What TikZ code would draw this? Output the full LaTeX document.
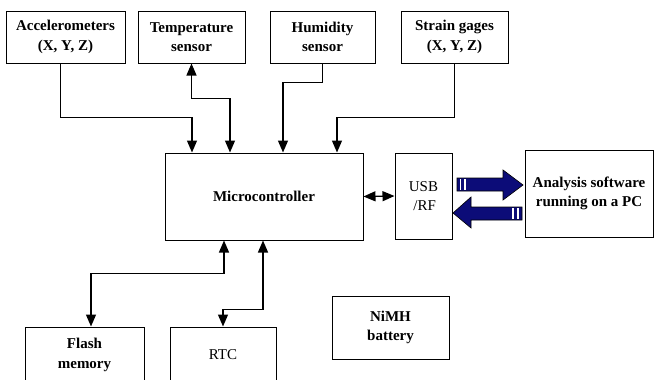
\documentclass[tikz,border=0pt]{standalone}
\usepackage{fontspec}
\setmainfont{Liberation Serif}
\usetikzlibrary{arrows.meta,calc}

\definecolor{pcblue}{RGB}{12,12,120}

\begin{document}
\begin{tikzpicture}[
    x=1pt, y=-1pt,
    block/.style={rectangle, draw, line width=1pt, align=center, inner sep=1pt,
        font=\fontsize{15}{19.5}\selectfont\bfseries},
    plain/.style={block, font=\fontsize{15}{19.5}\selectfont},
    conn/.style={line width=1.3pt, -{Triangle[length=12pt,width=10pt]}},
    biconn/.style={line width=1.3pt, {Triangle[length=12pt,width=10pt]}-{Triangle[length=12pt,width=10pt]}},
    fat/.style={fill=pcblue, draw=black, line width=0.6pt}
]
\useasboundingbox (0,0) rectangle (654,380);

% sensors on top
\node[block, minimum width=119pt, minimum height=52pt] (acc) at (65.5,37) {Accelerometers\\(X, Y, Z)};
\node[block, minimum width=107pt, minimum height=52pt] (temp) at (191.5,37) {Temperature\\sensor};
\node[block, minimum width=105pt, minimum height=52pt] (hum) at (322.5,37) {Humidity\\sensor};
\node[block, minimum width=107pt, minimum height=52pt] (strain) at (454.5,37) {Strain gages\\(X, Y, Z)};

% core
\node[block, minimum width=198pt, minimum height=87pt] (mcu) at (264,196.5) {Microcontroller};
\node[plain, minimum width=57pt, minimum height=86pt] (usb) at (423.5,196) {USB\\\,/RF};
\node[block, minimum width=128pt, minimum height=87pt] (pc) at (589,193.5) {Analysis software\\running on a PC};

% bottom row
\node[block, minimum width=119pt, minimum height=56pt] (flash) at (84.5,355) {Flash\\memory};
\node[plain, minimum width=106pt, minimum height=56pt] (rtc) at (223,355) {RTC};
\node[block, minimum width=117pt, minimum height=63pt] (bat) at (390.5,327.5) {NiMH\\battery};

% sensor links
\draw[conn] ([xshift=-5pt]acc.south) -- ++(0,54) -| ([xshift=-72pt]mcu.north);
\draw[biconn] (temp.south) -- ++(0,35) -| ([xshift=-34pt]mcu.north);
\draw[conn] (hum.south) -- ++(0,19) -| ([xshift=19pt]mcu.north);
\draw[conn] (strain.south) -- ++(0,54) -| ([xshift=73pt]mcu.north);

% memory and clock
\draw[biconn] ([xshift=-40pt]mcu.south) -- ++(0,33) -| ([xshift=6.5pt]flash.north);
\draw[biconn] ([xshift=-1pt]mcu.south) -- ++(0,69) -| (rtc.north);

\draw[biconn] (mcu.east) -- (usb.west);

% link to the PC
\draw[fat] (457,178) -- (503,178) -- (503,170) -- (523,185) -- (503,200) -- (503,191) -- (457,191) -- cycle;
\draw[white, line width=1.2pt] (460.5,179) -- (460.5,190) (465,179) -- (465,190);
\draw[fat] (522,207) -- (471,207) -- (471,197) -- (453,213) -- (471,228) -- (471,220) -- (522,220) -- cycle;
\draw[white, line width=1.2pt] (513,208) -- (513,219) (518,208) -- (518,219);

\end{tikzpicture}
\end{document}
